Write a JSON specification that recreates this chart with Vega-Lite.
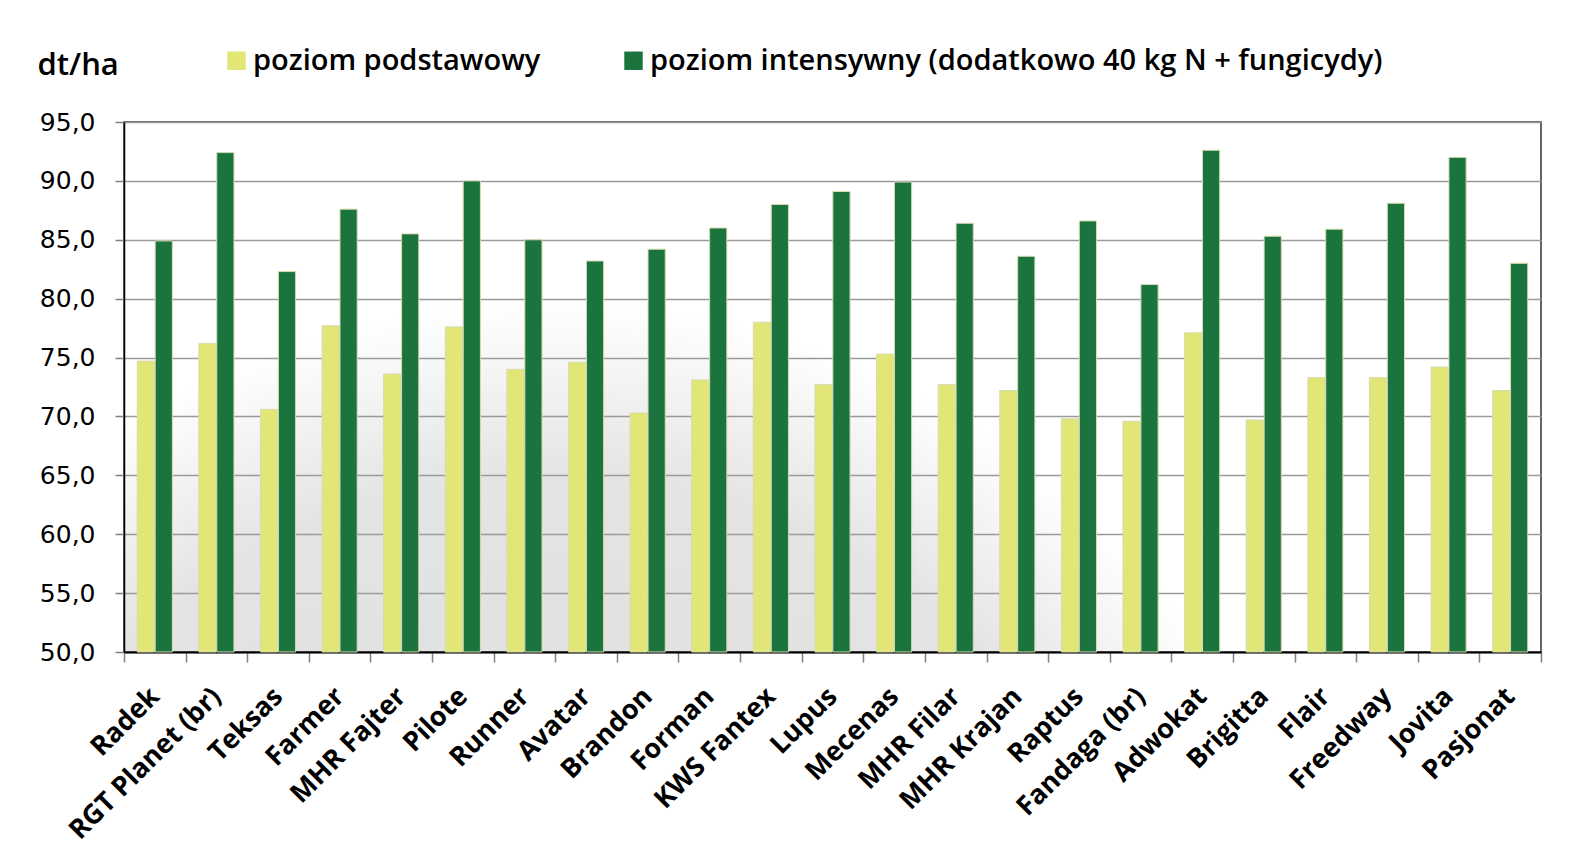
{
  "$schema": "https://vega.github.io/schema/vega-lite/v6.json",
  "autosize": {"type": "none"},
  "width": 1417,
  "height": 530,
  "padding": {"left": 124, "top": 122, "right": 32, "bottom": 207},
  "background": "#ffffff",
  "config": {
    "view": {
      "stroke": "#333333",
      "strokeWidth": 1.5,
      "fill": {
        "gradient": "radial",
        "x1": 0.3, "y1": 1.0, "r1": 0,
        "x2": 0.3, "y2": 1.0, "r2": 0.56,
        "stops": [
          {"offset": 0, "color": "#dcdcdc"},
          {"offset": 0.78, "color": "#e4e4e4"},
          {"offset": 1, "color": "#ffffff"}
        ]
      }
    }
  },
  "data": {
    "values": [
      {"odmiana": "Radek", "poziom": "poziom podstawowy", "plon": 74.7},
      {"odmiana": "Radek", "poziom": "poziom intensywny (dodatkowo 40 kg N + fungicydy)", "plon": 84.9},
      {"odmiana": "RGT Planet (br)", "poziom": "poziom podstawowy", "plon": 76.2},
      {"odmiana": "RGT Planet (br)", "poziom": "poziom intensywny (dodatkowo 40 kg N + fungicydy)", "plon": 92.4},
      {"odmiana": "Teksas", "poziom": "poziom podstawowy", "plon": 70.6},
      {"odmiana": "Teksas", "poziom": "poziom intensywny (dodatkowo 40 kg N + fungicydy)", "plon": 82.3},
      {"odmiana": "Farmer", "poziom": "poziom podstawowy", "plon": 77.7},
      {"odmiana": "Farmer", "poziom": "poziom intensywny (dodatkowo 40 kg N + fungicydy)", "plon": 87.6},
      {"odmiana": "MHR Fajter", "poziom": "poziom podstawowy", "plon": 73.6},
      {"odmiana": "MHR Fajter", "poziom": "poziom intensywny (dodatkowo 40 kg N + fungicydy)", "plon": 85.5},
      {"odmiana": "Pilote", "poziom": "poziom podstawowy", "plon": 77.6},
      {"odmiana": "Pilote", "poziom": "poziom intensywny (dodatkowo 40 kg N + fungicydy)", "plon": 90.0},
      {"odmiana": "Runner", "poziom": "poziom podstawowy", "plon": 74.0},
      {"odmiana": "Runner", "poziom": "poziom intensywny (dodatkowo 40 kg N + fungicydy)", "plon": 85.0},
      {"odmiana": "Avatar", "poziom": "poziom podstawowy", "plon": 74.6},
      {"odmiana": "Avatar", "poziom": "poziom intensywny (dodatkowo 40 kg N + fungicydy)", "plon": 83.2},
      {"odmiana": "Brandon", "poziom": "poziom podstawowy", "plon": 70.3},
      {"odmiana": "Brandon", "poziom": "poziom intensywny (dodatkowo 40 kg N + fungicydy)", "plon": 84.2},
      {"odmiana": "Forman", "poziom": "poziom podstawowy", "plon": 73.1},
      {"odmiana": "Forman", "poziom": "poziom intensywny (dodatkowo 40 kg N + fungicydy)", "plon": 86.0},
      {"odmiana": "KWS Fantex", "poziom": "poziom podstawowy", "plon": 78.0},
      {"odmiana": "KWS Fantex", "poziom": "poziom intensywny (dodatkowo 40 kg N + fungicydy)", "plon": 88.0},
      {"odmiana": "Lupus", "poziom": "poziom podstawowy", "plon": 72.7},
      {"odmiana": "Lupus", "poziom": "poziom intensywny (dodatkowo 40 kg N + fungicydy)", "plon": 89.1},
      {"odmiana": "Mecenas", "poziom": "poziom podstawowy", "plon": 75.3},
      {"odmiana": "Mecenas", "poziom": "poziom intensywny (dodatkowo 40 kg N + fungicydy)", "plon": 89.9},
      {"odmiana": "MHR Filar", "poziom": "poziom podstawowy", "plon": 72.7},
      {"odmiana": "MHR Filar", "poziom": "poziom intensywny (dodatkowo 40 kg N + fungicydy)", "plon": 86.4},
      {"odmiana": "MHR Krajan", "poziom": "poziom podstawowy", "plon": 72.2},
      {"odmiana": "MHR Krajan", "poziom": "poziom intensywny (dodatkowo 40 kg N + fungicydy)", "plon": 83.6},
      {"odmiana": "Raptus", "poziom": "poziom podstawowy", "plon": 69.8},
      {"odmiana": "Raptus", "poziom": "poziom intensywny (dodatkowo 40 kg N + fungicydy)", "plon": 86.6},
      {"odmiana": "Fandaga (br)", "poziom": "poziom podstawowy", "plon": 69.6},
      {"odmiana": "Fandaga (br)", "poziom": "poziom intensywny (dodatkowo 40 kg N + fungicydy)", "plon": 81.2},
      {"odmiana": "Adwokat", "poziom": "poziom podstawowy", "plon": 77.1},
      {"odmiana": "Adwokat", "poziom": "poziom intensywny (dodatkowo 40 kg N + fungicydy)", "plon": 92.6},
      {"odmiana": "Brigitta", "poziom": "poziom podstawowy", "plon": 69.7},
      {"odmiana": "Brigitta", "poziom": "poziom intensywny (dodatkowo 40 kg N + fungicydy)", "plon": 85.3},
      {"odmiana": "Flair", "poziom": "poziom podstawowy", "plon": 73.3},
      {"odmiana": "Flair", "poziom": "poziom intensywny (dodatkowo 40 kg N + fungicydy)", "plon": 85.9},
      {"odmiana": "Freedway", "poziom": "poziom podstawowy", "plon": 73.3},
      {"odmiana": "Freedway", "poziom": "poziom intensywny (dodatkowo 40 kg N + fungicydy)", "plon": 88.1},
      {"odmiana": "Jovita", "poziom": "poziom podstawowy", "plon": 74.2},
      {"odmiana": "Jovita", "poziom": "poziom intensywny (dodatkowo 40 kg N + fungicydy)", "plon": 92.0},
      {"odmiana": "Pasjonat", "poziom": "poziom podstawowy", "plon": 72.2},
      {"odmiana": "Pasjonat", "poziom": "poziom intensywny (dodatkowo 40 kg N + fungicydy)", "plon": 83.0}
    ]
  },
  "mark": {"type": "bar", "stroke": "#d6dbb0", "strokeWidth": 1},
  "encoding": {
    "x": {
      "field": "odmiana",
      "type": "nominal",
      "sort": null,
      "title": null,
      "scale": {"paddingInner": 0, "paddingOuter": 0},
      "axis": {
        "labelAngle": -45,
        "labelAlign": "right",
        "labelBaseline": "middle",
        "labelFont": "Open Sans",
        "labelFontWeight": 700,
        "labelFontSize": 27,
        "labelColor": "#000000",
        "labelPadding": 30,
        "labelLimit": 400,
        "labelOverlap": false,
        "tickBand": "extent",
        "ticks": true,
        "tickColor": "#808080",
        "tickSize": 10,
        "tickWidth": 1.5,
        "domainColor": "#000000",
        "domainWidth": 2,
        "grid": false
      }
    },
    "xOffset": {
      "field": "poziom",
      "type": "nominal",
      "sort": ["poziom podstawowy", "poziom intensywny (dodatkowo 40 kg N + fungicydy)"],
      "scale": {"paddingInner": 0.04, "paddingOuter": 0.74}
    },
    "y": {
      "field": "plon",
      "type": "quantitative",
      "scale": {"domain": [50, 95], "zero": false, "nice": false},
      "axis": {
        "title": "dt/ha",
        "titleAngle": 0,
        "titleAlign": "left",
        "titleBaseline": "alphabetic",
        "titleX": -87,
        "titleY": -48,
        "titleFont": "Open Sans",
        "titleFontWeight": 600,
        "titleFontSize": 31,
        "titleColor": "#000000",
        "values": [50, 55, 60, 65, 70, 75, 80, 85, 90, 95],
        "labelExpr": "replace(format(datum.value, '.1f'), '.', ',')",
        "labelFont": "DejaVu Sans",
        "labelFontSize": 25,
        "labelColor": "#000000",
        "labelPadding": 20,
        "tickColor": "#808080",
        "tickSize": 9,
        "tickWidth": 1.5,
        "domainColor": "#000000",
        "domainWidth": 1.5,
        "grid": true,
        "gridColor": "#9a9a9a",
        "gridWidth": 1.5
      }
    },
    "y2": {"datum": 50},
    "color": {
      "field": "poziom",
      "type": "nominal",
      "sort": ["poziom podstawowy", "poziom intensywny (dodatkowo 40 kg N + fungicydy)"],
      "scale": {
        "domain": ["poziom podstawowy", "poziom intensywny (dodatkowo 40 kg N + fungicydy)"],
        "range": ["#e2e676", "#1b733e"]
      },
      "legend": {
        "title": null,
        "orient": "none",
        "direction": "horizontal",
        "legendX": 98,
        "legendY": -76,
        "padding": 0,
        "symbolType": "square",
        "symbolSize": 340,
        "symbolStrokeWidth": 0,
        "symbolOpacity": 1,
        "labelFont": "Open Sans",
        "labelFontWeight": 600,
        "labelFontSize": 29,
        "labelColor": "#000000",
        "labelOffset": 2,
        "labelLimit": 900,
        "columnPadding": 78
      }
    }
  }
}
